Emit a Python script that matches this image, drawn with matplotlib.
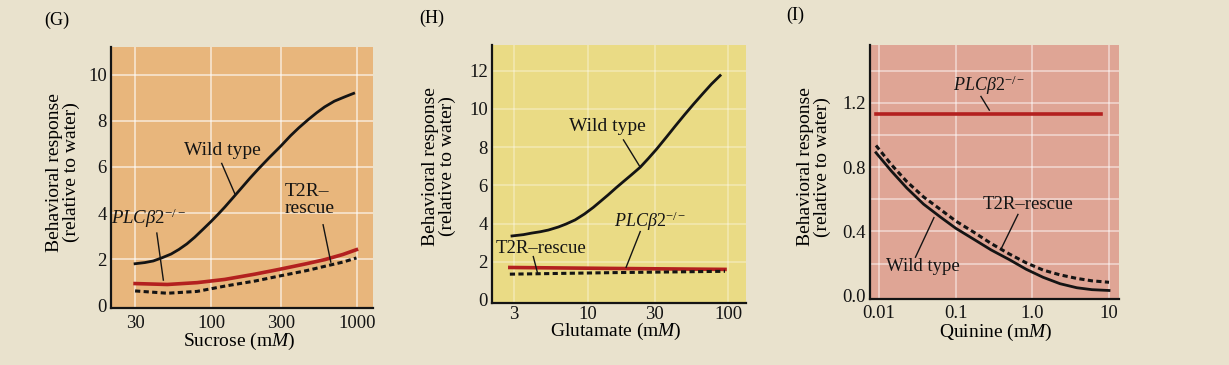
import matplotlib
matplotlib.use("Agg")
import matplotlib.pyplot as plt
from matplotlib.ticker import FixedLocator, FixedFormatter, NullLocator

# ---------------- data ----------------
# (G) Sucrose
sucrose_wt_mM = [30, 35, 40, 46, 53, 60, 68, 77, 88, 100, 112, 124, 140, 160, 185, 210,
                 250, 300, 350, 400, 463, 530, 600, 700, 820, 950]
sucrose_wt_resp = [1.8, 1.85, 1.92, 2.06, 2.22, 2.42, 2.66, 2.95, 3.3, 3.64, 3.96, 4.26,
                   4.64, 5.06, 5.52, 5.9, 6.4, 6.9, 7.35, 7.7, 8.05, 8.35, 8.6, 8.85, 9.03, 9.19]
sucrose_mut_mM = [30, 50, 80, 124, 200, 290, 450, 603, 800, 993]
sucrose_plc_resp = [0.94, 0.9, 0.98, 1.12, 1.35, 1.55, 1.8, 1.98, 2.2, 2.41]
sucrose_t2r_resp = [0.62, 0.52, 0.6, 0.83, 1.05, 1.26, 1.5, 1.69, 1.87, 2.05]
sucrose_ticks = [30, 100, 300, 1000]
sucrose_yticks = [0, 2, 4, 6, 8, 10]

# (H) Glutamate
glutamate_wt_mM = [2.9, 3.5, 4, 4.6, 5.26, 6.2, 7, 8.15, 9.5, 11, 12.3, 14, 16, 18, 20.5,
                   23.7, 27, 31, 36.6, 42, 49, 56.7, 66, 76, 87.7]
glutamate_wt_resp = [3.35, 3.42, 3.5, 3.57, 3.66, 3.82, 3.97, 4.19, 4.5, 4.85, 5.15, 5.5,
                     5.88, 6.2, 6.55, 6.95, 7.4, 7.9, 8.55, 9.1, 9.7, 10.25, 10.8, 11.3, 11.75]
glutamate_mut_mM = [2.8, 15, 95]
glutamate_plc_resp = [1.7, 1.65, 1.6]
glutamate_t2r_resp = [1.35, 1.43, 1.5]
glutamate_ticks = [3, 10, 30, 100]
glutamate_yticks = [0, 2, 4, 6, 8, 10, 12]

# (I) Quinine
quinine_mM = [0.0091, 0.0145, 0.023, 0.038, 0.063, 0.1, 0.174, 0.29, 0.5, 0.83, 1.38, 2.3, 3.8, 6.0, 10]
quinine_wt_resp = [0.89, 0.775, 0.67, 0.57, 0.49, 0.42, 0.35, 0.285, 0.225, 0.165, 0.115, 0.075, 0.05, 0.038, 0.033]
quinine_t2r_resp = [0.935, 0.815, 0.71, 0.615, 0.537, 0.465, 0.394, 0.325, 0.26, 0.205, 0.16, 0.13, 0.108, 0.093, 0.084]
quinine_plc_mM = [0.0091, 7.8]
quinine_plc_resp = [1.13, 1.13]
quinine_ticks = [0.01, 0.1, 1.0, 10]
quinine_ticklabels = ["0.01", "0.1", "1.0", "10"]
quinine_yticks = [0.0, 0.4, 0.8, 1.2]

# ---------------- style ----------------
SERIF = "Liberation Serif"
plt.rcParams["font.family"] = [SERIF, "DejaVu Serif"]
plt.rcParams["mathtext.fontset"] = "custom"
plt.rcParams["mathtext.rm"] = SERIF
plt.rcParams["mathtext.it"] = SERIF + ":italic"
plt.rcParams["mathtext.bf"] = SERIF + ":bold"

PAGE = "#E9E2CD"
RED = "#B3201F"
BLACK = "#141414"
PLC = r"$\mathit{PLC}\mathit{\beta}\mathit{2}^{-/-}$"

fig = plt.figure(figsize=(12.29, 3.65), dpi=100, facecolor=PAGE)


def px_axes(l, r, t, b):
    W, H = 1229, 365
    return [l / W, 1 - b / H, (r - l) / W, (b - t) / H]


def style(ax, face, xlim, ylim, xticks, xlabels, yticks, ylabels, xgrid, ygrid,
          galpha, xlabel, xlab_pos, ylab_pos, xpad, ypad):
    ax.set_facecolor(face)
    ax.set_xscale("log")
    ax.set_xlim(*xlim)
    ax.set_ylim(*ylim)
    for s in ("top", "right"):
        ax.spines[s].set_visible(False)
    for s in ("left", "bottom"):
        ax.spines[s].set_linewidth(1.6)
        ax.spines[s].set_color(BLACK)
    ax.xaxis.set_major_locator(FixedLocator(xticks))
    ax.xaxis.set_major_formatter(FixedFormatter(xlabels))
    ax.xaxis.set_minor_locator(NullLocator())
    ax.yaxis.set_major_locator(FixedLocator(yticks))
    ax.yaxis.set_major_formatter(FixedFormatter(ylabels))
    ax.tick_params(axis="x", length=0, pad=xpad, labelsize=13.5, colors=BLACK)
    ax.tick_params(axis="y", length=0, pad=ypad, labelsize=13.5, colors=BLACK)
    for v in xgrid:
        ax.axvline(v, color="white", lw=1.4, alpha=galpha, zorder=0.5)
    for v in ygrid:
        ax.axhline(v, color="white", lw=1.4, alpha=galpha, zorder=0.5)
    ax.set_xlabel(xlabel, fontsize=14, va="center")
    ax.xaxis.set_label_coords(*xlab_pos)
    ax.set_ylabel("Behavioral response\n(relative to water)", fontsize=14,
                  va="center", linespacing=1.0)
    ax.yaxis.set_label_coords(*ylab_pos)


def note(ax, text, xy_text, xy0, xy1, fs=14, ha="center"):
    ax.text(xy_text[0], xy_text[1], text, fontsize=fs, ha=ha, va="center",
            color=BLACK, zorder=5)
    ax.plot([xy0[0], xy1[0]], [xy0[1], xy1[1]], color=BLACK, lw=1.0, zorder=5)


dash = (0, (1.7, 1.1))

# ---------------- (G) ----------------
axG = fig.add_axes(px_axes(111, 373, 47, 308))
style(axG, "#E8B67C", (20.5, 1290), (-0.12, 11.2), sucrose_ticks,
      [str(v) for v in sucrose_ticks], sucrose_yticks,
      [str(v) for v in sucrose_yticks], sucrose_ticks, [2, 4, 6, 8, 10], 0.55,
      r"Sucrose (m$\mathit{M}$)", (0.489, -0.13), (-0.183, 0.52), 5, 3)
axG.plot(sucrose_wt_mM, sucrose_wt_resp, color=BLACK, lw=2.0, zorder=3)
axG.plot(sucrose_mut_mM, sucrose_plc_resp, color=RED, lw=2.6, zorder=3)
axG.plot(sucrose_mut_mM, sucrose_t2r_resp, color=BLACK, lw=2.2, ls=dash, zorder=3)
note(axG, "Wild type", (119, 6.72), (118, 6.15), (146, 4.8))
axG.text(321, 4.57, "T2R–\nrescue", fontsize=14, ha="left", va="center",
         multialignment="left", linespacing=1.0, color=BLACK, zorder=5)
axG.plot([586, 662], [3.49, 1.87], color=BLACK, lw=1.0, zorder=5)
note(axG, PLC, (37, 3.75), (42.3, 3.13), (46.9, 1.09), fs=13.5)

# ---------------- (H) ----------------
axH = fig.add_axes(px_axes(492, 746, 45, 303))
style(axH, "#EADB85", (2.09, 134), (-0.16, 13.35), glutamate_ticks,
      [str(v) for v in glutamate_ticks], glutamate_yticks,
      [str(v) for v in glutamate_yticks], glutamate_ticks, [2, 4, 6, 8, 10, 12], 0.3,
      r"Glutamate (m$\mathit{M}$)", (0.488, -0.112), (-0.209, 0.53), 2, 3)
axH.plot(glutamate_wt_mM, glutamate_wt_resp, color=BLACK, lw=2.0, zorder=3)
axH.plot(glutamate_mut_mM, glutamate_plc_resp, color=RED, lw=2.6, zorder=3)
axH.plot(glutamate_mut_mM, glutamate_t2r_resp, color=BLACK, lw=2.2, ls=dash, zorder=3)
note(axH, "Wild type", (13.8, 9.06), (18.0, 8.38), (23.7, 6.95))
note(axH, PLC, (27.9, 4.1), (23.7, 3.58), (18.8, 1.71), fs=13)
note(axH, "T2R–rescue", (4.67, 2.67), (4.11, 2.27), (4.41, 1.4), fs=13.5)

# ---------------- (I) ----------------
axI = fig.add_axes(px_axes(870, 1119, 45, 299))
style(axI, "#DFA595", (0.0076, 13.5), (-0.02, 1.56), quinine_ticks,
      quinine_ticklabels, quinine_yticks,
      ["%.1f" % v for v in quinine_yticks], quinine_ticks,
      [0.2, 0.4, 0.6, 0.8, 1.0, 1.2, 1.4], 0.45,
      r"Quinine (m$\mathit{M}$)", (0.506, -0.13), (-0.225, 0.52), 4, 3)
axI.plot(quinine_mM, quinine_wt_resp, color=BLACK, lw=2.0, zorder=3)
axI.plot(quinine_mM, quinine_t2r_resp, color=BLACK, lw=2.2, ls=dash, zorder=3)
axI.plot(quinine_plc_mM, quinine_plc_resp, color=RED, lw=2.6, zorder=3)
note(axI, PLC, (0.27, 1.31), (0.213, 1.24), (0.274, 1.155), fs=13)
note(axI, "T2R–rescue", (0.873, 0.57), (0.648, 0.506), (0.391, 0.292), fs=13.5)
note(axI, "Wild type", (0.0373, 0.18), (0.0298, 0.24), (0.0519, 0.486), fs=13.5)

# panel letters
fig.text(57 / 1229, 1 - 20 / 365, "(G)", fontsize=13, ha="center", va="center")
fig.text(432 / 1229, 1 - 18 / 365, "(H)", fontsize=13, ha="center", va="center")
fig.text(795 / 1229, 1 - 15 / 365, "(I)", fontsize=13, ha="center", va="center")

fig.savefig("out.png", dpi=100, facecolor=PAGE)
